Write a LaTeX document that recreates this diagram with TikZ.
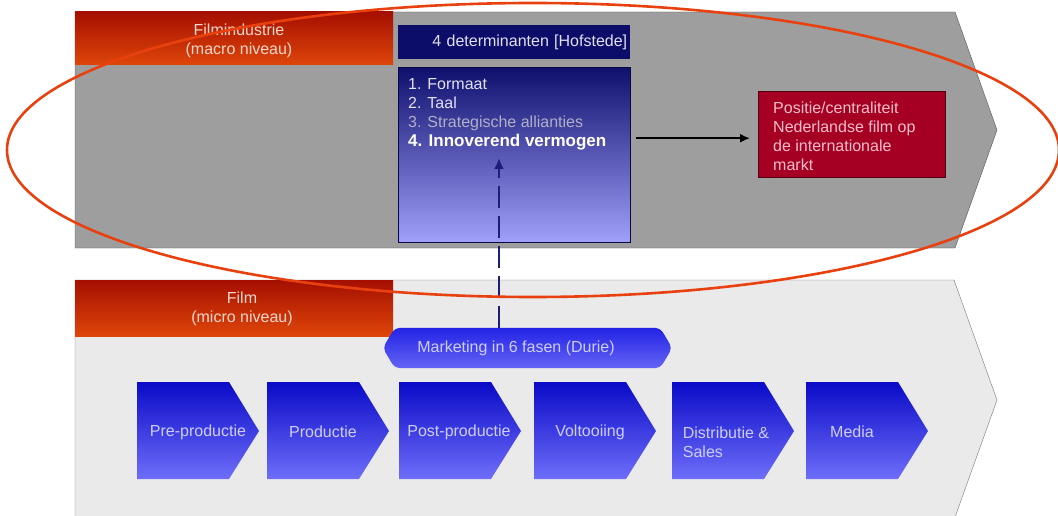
\documentclass[tikz,border=0pt]{standalone}
\usepackage{fontspec}
\setmainfont{Liberation Sans}
\usetikzlibrary{arrows.meta}

\definecolor{bandgray}{RGB}{158,158,158}
\definecolor{bandedge}{RGB}{85,85,85}
\definecolor{bandlight}{RGB}{234,234,234}
\definecolor{hdrtop}{RGB}{165,15,0}
\definecolor{hdrbot}{RGB}{222,70,10}
\definecolor{hdrtext}{RGB}{245,215,205}
\definecolor{navyhdr}{RGB}{12,12,105}
\definecolor{dettop}{RGB}{15,15,110}
\definecolor{detbot}{RGB}{160,160,250}
\definecolor{dettext}{RGB}{225,225,240}
\definecolor{detgray}{RGB}{175,175,200}
\definecolor{posred}{RGB}{165,0,35}
\definecolor{postext}{RGB}{245,190,200}
\definecolor{chevtop}{RGB}{10,10,200}
\definecolor{chevbot}{RGB}{110,110,250}
\definecolor{chevtext}{RGB}{205,205,255}
\definecolor{pilltop}{RGB}{35,35,230}
\definecolor{pillbot}{RGB}{100,100,245}
\definecolor{ovalred}{RGB}{232,65,15}
\definecolor{dashnavy}{RGB}{30,30,120}

\begin{document}
\begin{tikzpicture}[x=1pt, y=-1pt,
  lbl/.style={font=\fontsize{16}{19}\selectfont, inner sep=0pt},
  hdrshade/.style={top color=hdrtop, bottom color=hdrbot},
  chevshade/.style={top color=chevtop, bottom color=chevbot}]
  \useasboundingbox (0,0) rectangle (1058,516);
  % Bands
  \filldraw[fill=bandgray, draw=bandedge]
    (75,12) -- (955,12) -- (997,130) -- (955,248) -- (75,248) -- cycle;
  \filldraw[fill=bandlight, draw=bandedge!80]
    (75,280) -- (954,280) -- (997,400) -- (954,520) -- (75,520) -- cycle;
  % Band headers
  \shade[hdrshade] (75,12) rectangle (393,65);
  \node[lbl, text=hdrtext, align=center] (macro) at (239,41) {Filmindustrie\\(macro niveau)};
  \shade[hdrshade] (75,280) rectangle (393,336);
  \node[lbl, text=hdrtext, align=center] (micro) at (242,309) {Film\\(micro niveau)};
  % Determinants
  \node[lbl, fill=navyhdr, text=dettext, minimum width=232pt, minimum height=34pt,
    text width=226pt, align=right, anchor=north west] (hof) at (398,25) {4 determinanten [Hofstede]};
  \node[top color=dettop, bottom color=detbot, draw=dettop!60!black,
    minimum width=232pt, minimum height=175pt, anchor=north west] (det) at (398,67) {};
  \node[lbl, text=dettext, align=left, anchor=north west] (lst) at (408,78)
    {1. Formaat\\2. Taal\\{\color{detgray}3. Strategische allianties}\\
     {\fontsize{17}{21}\selectfont\bfseries\color{white}4. Innoverend vermogen}};
  % Position box
  \node[fill=posred, draw=posred!50!black, minimum width=187pt, minimum height=86pt,
    anchor=north west] (pos) at (758,91) {};
  \node[lbl, text=postext, align=left, anchor=north west] (postxt) at (773,102)
    {Positie/centraliteit\\Nederlandse film op\\de internationale\\markt};
  \draw[-{Latex[length=10pt,width=9pt]}, line width=1.8pt]
    ([xshift=6pt,yshift=16.5pt]det.east) -- ([xshift=-8pt,yshift=-4pt]pos.west);
  % Marketing
  \node[minimum width=289pt, minimum height=40pt, inner sep=0pt] (mkt) at (527.5,348) {};
  \shade[top color=pilltop, bottom color=pillbot, rounded corners=5pt]
    ([xshift=12pt]mkt.north west) -- ([xshift=-12pt]mkt.north east) -- (mkt.east) --
    ([xshift=-12pt]mkt.south east) -- ([xshift=12pt]mkt.south west) -- (mkt.west) -- cycle;
  \node[lbl, text=chevtext] (mktlbl) at (516,348) {Marketing in 6 fasen (Durie)};
  \coordinate (tip) at (499,158);
  \draw[dashnavy, line width=2.2pt, dash pattern=on 22pt off 8pt,
    -{Latex[length=11pt,width=10pt]}] ([xshift=-28.5pt]mkt.north) -- (tip);
  % Phases
  \foreach \x/\c/\cy/\name/\txt in {137/198/432/pre/Pre-productie,
      267/323/432/prod/Productie, 399/459/432/post/Post-productie,
      534/590/432/volt/Voltooiing, 672/726/442/dist/{Distributie \&\\Sales},
      806/852/432/media/Media} {
    \shade[chevshade] (\x,382) -- ++(92,0) -- ++(30,49) -- ++(-30,48) -- ++(-92,0) -- cycle;
    \node[lbl, text=chevtext, align=left] (\name) at (\c,\cy) {\txt};
  }
  % Oval
  \draw[ovalred, line width=2.6pt] (533,150) ellipse [x radius=526, y radius=147];
\end{tikzpicture}
\end{document}
